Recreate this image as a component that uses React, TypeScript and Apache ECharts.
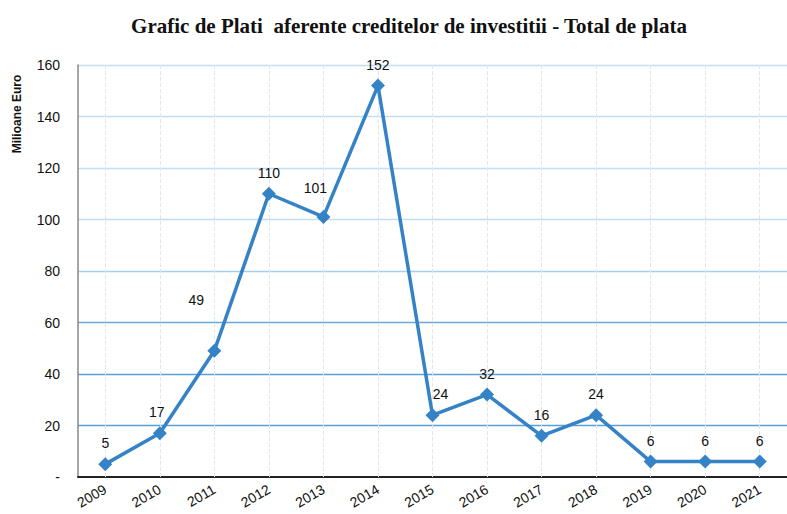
import React, { useEffect, useRef } from "react";
import * as echarts from "echarts";

const years = ["2009","2010","2011","2012","2013","2014","2015","2016","2017","2018","2019","2020","2021"];
const payments = [5, 17, 49, 110, 101, 152, 24, 32, 16, 24, 6, 6, 6];
const labelOffsets: Record<number, [number, number]> = {
  1: [-3, 0],
  2: [-18, -30],
  4: [-8, -8],
  6: [8, 0],
};
const title = "Grafic de Plati  aferente creditelor de investitii - Total de plata";
const yName = "Milioane Euro";

export default function App() {
  const ref = useRef<HTMLDivElement>(null);
  useEffect(() => {
    if (!ref.current) return;
    const chart = echarts.init(ref.current, null, { renderer: "svg" });
    const data = payments.map((v, i) => {
      const off = labelOffsets[i];
      return off ? { value: v, label: { offset: off } } : { value: v };
    });
    chart.setOption({
      animation: false,
      backgroundColor: "#fff",
      title: {
        text: title,
        left: 404,
        textAlign: "center",
        top: 10,
        textStyle: { fontFamily: "Liberation Serif", fontWeight: "bold", fontSize: 21, color: "#111" },
      },
      graphic: [
        {
          type: "text",
          x: 17,
          y: 114,
          rotation: Math.PI / 2,
          style: {
            text: yName,
            fontFamily: "Liberation Sans",
            fontWeight: "bold",
            fontSize: 12,
            fill: "#111",
            align: "center",
            verticalAlign: "middle",
          },
        },
      ],
      grid: { left: 78, top: 65, bottom: 37, width: 718, containLabel: false },
      xAxis: {
        type: "category",
        data: years,
        boundaryGap: true,
        axisLine: { lineStyle: { color: "#222", width: 2 } },
        axisTick: { show: false },
        axisLabel: {
          rotate: 30,
          margin: 11,
          fontFamily: "Liberation Sans",
          fontSize: 14,
          color: "#111",
          interval: 0,
        },
        splitLine: { show: false },
      },
      yAxis: {
        type: "value",
        min: 0,
        max: 160,
        interval: 20,
        axisLine: { show: true, lineStyle: { color: "#888", width: 1.5 } },
        axisTick: { show: false },
        axisLabel: {
          margin: 18,
          fontFamily: "Liberation Sans",
          fontSize: 14,
          color: "#111",
          formatter: (v: number) => (v === 0 ? "-" : String(v)),
        },
        splitLine: {
          show: true,
          lineStyle: {
            color: ["#ffffff", "#5a9fd6", "#5a9fd6", "#6aa8db", "#a9cdec", "#c3ddf2", "#c3ddf2", "#c3ddf2", "#c3ddf2"],
            width: 1.3,
          },
        },
      },
      series: [
        {
          type: "line",
          data,
          symbol: "diamond",
          symbolSize: 14,
          lineStyle: { color: "#3583c6", width: 3.5 },
          itemStyle: { color: "#3583c6" },
          label: {
            show: true,
            position: "top",
            distance: 7,
            fontFamily: "Liberation Sans",
            fontSize: 14,
            color: "#111",
          },
          markLine: {
            silent: true,
            symbol: "none",
            label: { show: false },
            lineStyle: { color: "#dbe7f1", type: "dashed", width: 1 },
            data: years.map((y) => ({ xAxis: y })),
            z: 1,
          },
          z: 3,
        },
      ],
    });
    return () => chart.dispose();
  }, []);
  return <div ref={ref} style={{ width: 787, height: 514, position: "absolute", left: 0, top: 0 }} />;
}
